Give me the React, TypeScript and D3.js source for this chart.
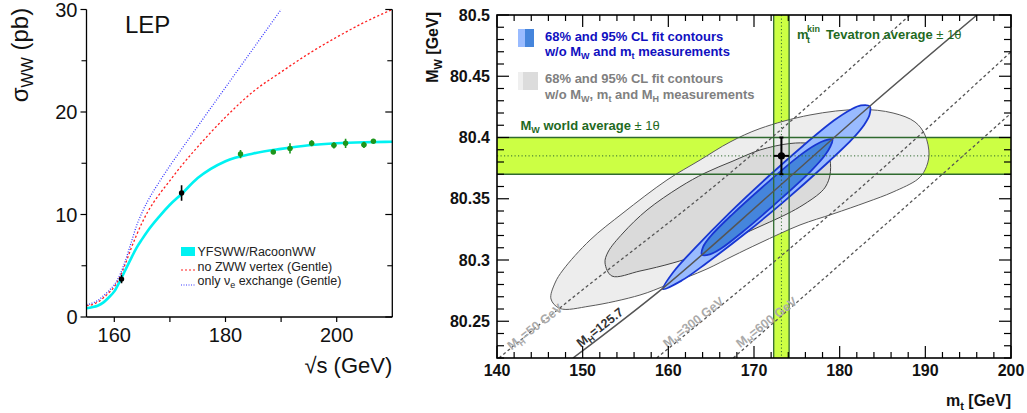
import React, { useEffect } from "react";
import * as d3 from "d3";

// ---------------- Left panel: LEP WW cross-section ----------------
const sqrtS = [155, 156, 157, 158, 159, 160, 161, 162, 163, 164, 165, 166, 168, 170, 172, 175, 180, 185, 190, 195, 200, 205, 210];
const sigmaYFSWW = [0.85, 0.95, 1.1, 1.4, 1.9, 2.5, 3.5, 4.6, 5.7, 6.75, 7.6, 8.4, 9.75, 10.95, 11.95, 13.55, 15.2, 15.95, 16.4, 16.75, 16.95, 17.05, 17.1];
const sigmaNoZWW = [1.1, 1.2, 1.45, 1.85, 2.35, 2.95, 3.9, 5.2, 6.65, 8.0, 9.2, 10.25, 11.9, 13.3, 14.7, 16.6, 19.5, 22.0, 23.9, 25.7, 27.3, 28.75, 30.0];
const sqrtSNu = [155, 156, 157, 158, 159, 160, 161, 162, 163, 164, 165, 166, 168, 170, 172, 175, 180, 185, 190];
const sigmaNuOnly = [1.2, 1.35, 1.6, 2.05, 2.55, 3.15, 4.1, 5.5, 7.2, 8.9, 10.2, 11.3, 13.1, 14.75, 16.3, 18.6, 22.4, 26.2, 30.0];

const measS = [161.3, 172.1, 182.7, 188.6, 191.6, 195.5, 199.5, 201.6, 204.9, 206.6];
const measSigma = [3.7, 12.1, 15.9, 16.1, 16.45, 16.95, 16.75, 16.95, 16.8, 17.15];
const measErr = [0.4, 0.75, 0.4, 0.2, 0.5, 0.3, 0.3, 0.45, 0.3, 0.15];
const measGroup = ["old", "old", "lep2", "lep2", "lep2", "lep2", "lep2", "lep2", "lep2", "lep2"];

const yTicksLeft = [0, 10, 20, 30];
const yMinorLeft = [5, 15, 25];
const xTicksLeft = [160, 170, 180, 190, 200];
const xLabelsLeft = [160, 180, 200];

// ---------------- Right panel: MW vs mt ----------------
const MT_TEV = 173.2;
const MT_TEV_ERR = 0.9;
const MW_WORLD = 80.385;
const MW_WORLD_ERR = 0.015;

// 95% CL contour without MW, mt, MH (light gray)
const grayOuterMt = [146.3, 146.77, 147.7, 150.86, 154.71, 159.84, 163.7, 167.2, 170.7, 176.54, 182.37, 186.23, 188.79, 189.96, 190.43, 189.96, 189.14, 186.23, 183.19, 179.22, 175.37, 170.7, 167.55, 164.51, 159.84, 156.69, 150.86, 147.35];
const grayOuterMw = [80.2682, 80.2812, 80.2918, 80.3163, 80.3384, 80.3653, 80.3816, 80.3963, 80.4073, 80.4184, 80.4229, 80.42, 80.4127, 80.402, 80.3857, 80.3735, 80.3661, 80.3555, 80.3473, 80.3376, 80.3286, 80.3139, 80.3033, 80.2927, 80.2796, 80.2714, 80.2624, 80.2604];
// 68% CL contour without MW, mt, MH (darker gray)
const grayInnerMt = [152.61, 152.96, 154.71, 157.51, 161.36, 164.28, 167.55, 170.7, 174.2, 176.54, 178.29, 178.87, 178.87, 178.4, 177.7, 175.72, 173.85, 169.53, 163.7, 160.54, 156.69, 153.42];
const grayInnerMw = [80.2976, 80.3065, 80.322, 80.3408, 80.3596, 80.371, 80.3808, 80.3898, 80.3951, 80.3951, 80.3914, 80.3816, 80.3694, 80.3604, 80.3547, 80.3449, 80.3376, 80.3237, 80.3049, 80.2976, 80.291, 80.2869];
// 95% CL contour without MW and mt (light blue)
const blueOuterMt = [159.38, 160.66, 163.02, 167.12, 171.38, 175.74, 179.36, 181.33, 182.48, 183.51, 183.48, 182.89, 181.37, 177.98, 173.62, 169.12, 164.48, 161.6];
const blueOuterMw = [80.2763, 80.2908, 80.3091, 80.3383, 80.3663, 80.3933, 80.414, 80.4229, 80.4262, 80.4255, 80.4183, 80.4107, 80.398, 80.3755, 80.3485, 80.3224, 80.2976, 80.2834];
// 68% CL contour without MW and mt (blue)
const blueInnerMt = [163.92, 164.06, 164.88, 167.35, 171.68, 175.25, 177.2, 178.3, 179.14, 178.92, 178.28, 176.72, 173.3, 168.89, 166.11, 164.84];
const blueInnerMw = [80.3044, 80.3107, 80.319, 80.3365, 80.3638, 80.3848, 80.3941, 80.3976, 80.3984, 80.3927, 80.3855, 80.3732, 80.3509, 80.3242, 80.3092, 80.3046];

// SM lines for fixed MH
const mh50Mt = [140.23, 146.57, 166.23, 188.21];
const mh50Mw = [80.22, 80.2565, 80.3653, 80.5];
const mh125Mt = [148.87, 159.38, 172.45, 183.54, 196.03];
const mh125Mw = [80.22, 80.2771, 80.3571, 80.4257, 80.5];
const mh300Mt = [158.64, 180.82, 200];
const mh300Mw = [80.22, 80.349, 80.4699];
const mh600Mt = [167.58, 188.59, 200];
const mh600Mw = [80.22, 80.349, 80.4198];

const mhLabelText = ["=50 GeV", "=125.7", "=300 GeV", "=600 GeV"];
const mhLabelMt = [144.44, 152.02, 162.94, 171.48];
const mhLabelMw = [80.2453, 80.2449, 80.249, 80.249];
const mhLabelColor = ["#aaaaaa", "#333333", "#aaaaaa", "#aaaaaa"];

const xTicksRight = [140, 150, 160, 170, 180, 190, 200];
const yTicksRight = [80.25, 80.3, 80.35, 80.4, 80.45, 80.5];
const yTickLabelsRight = ["80.25", "80.3", "80.35", "80.4", "80.45", "80.5"];

const FONT = "'Liberation Sans', Arial, Helvetica, sans-serif";
const GREEN_BAND = "#ccff44";
const GREEN_LINE = "#2f6a2f";
const GREEN_TEXT = "#1f6a1f";

export default function App() {
  useEffect(() => {
    document.body.style.margin = "0";
  }, []);

  // left scales
  const xL = d3.scaleLinear().domain([155, 210]).range([86.5, 392.3]);
  const yL = d3.scaleLinear().domain([0, 30]).range([317, 9.5]);
  const curveL = (xs: number[], ys: number[]) =>
    d3
      .line<number>()
      .x((_, i) => xL(xs[i]))
      .y((d) => yL(d))
      .curve(d3.curveMonotoneX)(ys) || "";

  // right scales
  const xR = d3.scaleLinear().domain([140, 200]).range([497, 1011]);
  const yR = d3.scaleLinear().domain([80.22, 80.5]).range([358, 15]);
  const contour = (mt: number[], mw: number[]) =>
    d3
      .line<number>()
      .x((d) => xR(d))
      .y((_, i) => yR(mw[i]))
      .curve(d3.curveCatmullRomClosed.alpha(0.5))(mt) || "";
  const mhPath = (mt: number[], mw: number[]) =>
    d3
      .line<number>()
      .x((d) => xR(d))
      .y((_, i) => yR(mw[i]))
      .curve(d3.curveMonotoneX)(mt) || "";

  const [lx0, lx1] = xL.range();
  const [ly0, ly1] = yL.range(); // ly0 bottom
  const [rx0, rx1] = xR.range();
  const [ry0, ry1] = yR.range(); // ry0 bottom

  const xMinorR = d3.range(140, 200.001, 2);
  const yMinorR = d3.range(0, 29).map((i) => +(80.22 + i * 0.01).toFixed(2));

  return (
    <svg width={1027} height={413} style={{ position: "absolute", left: 0, top: 0 }} fontFamily={FONT}>
      <defs>
        <clipPath id="clipL">
          <rect x={lx0} y={ly1} width={lx1 - lx0} height={ly0 - ly1} />
        </clipPath>
        <clipPath id="clipR">
          <rect x={rx0} y={ry1} width={rx1 - rx0} height={ry0 - ry1} />
        </clipPath>
      </defs>

      {/* ================= LEFT PANEL ================= */}
      <g clipPath="url(#clipL)">
        <path d={curveL(sqrtS, sigmaYFSWW)} fill="none" stroke="#00f2f2" strokeWidth={2.6} />
        <path d={curveL(sqrtS, sigmaNoZWW)} fill="none" stroke="#ff2020" strokeWidth={1.3} strokeDasharray="2.2,2.2" />
        <path d={curveL(sqrtSNu, sigmaNuOnly)} fill="none" stroke="#3a3aff" strokeWidth={1.3} strokeDasharray="1,1.6" />
        {measS.map((s, i) => {
          const c = measGroup[i] === "old" ? "#000000" : "#1c961c";
          return (
            <g key={"m" + i}>
              <line x1={xL(s)} x2={xL(s)} y1={yL(measSigma[i] - measErr[i])} y2={yL(measSigma[i] + measErr[i])} stroke={c} strokeWidth={1.6} />
              <line x1={xL(s) - 2.5} x2={xL(s) + 2.5} y1={yL(measSigma[i])} y2={yL(measSigma[i])} stroke={c} strokeWidth={1.2} />
              <circle cx={xL(s)} cy={yL(measSigma[i])} r={2.7} fill={c} />
            </g>
          );
        })}
      </g>
      {/* axes */}
      <line x1={lx0} x2={lx0} y1={ly1} y2={ly0} stroke="#000" strokeWidth={1.3} />
      <line x1={lx1} x2={lx1} y1={ly1} y2={ly0} stroke="#000" strokeWidth={1.3} />
      <line x1={lx0} x2={lx1} y1={ly0} y2={ly0} stroke="#000" strokeWidth={1.3} />
      {yTicksLeft.map((t) => (
        <g key={"ylt" + t}>
          <line x1={lx0 - 6} x2={lx0} y1={yL(t)} y2={yL(t)} stroke="#000" strokeWidth={1.2} />
          <line x1={lx1 - 7} x2={lx1} y1={yL(t)} y2={yL(t)} stroke="#000" strokeWidth={1.2} />
          <text x={lx0 - 9} y={yL(t) + 7} textAnchor="end" fontSize={20} fill="#111">
            {t}
          </text>
        </g>
      ))}
      {yMinorLeft.map((t) => (
        <g key={"ylm" + t}>
          <line x1={lx0 - 5} x2={lx0} y1={yL(t)} y2={yL(t)} stroke="#000" strokeWidth={1.1} />
          <line x1={lx1 - 5} x2={lx1} y1={yL(t)} y2={yL(t)} stroke="#000" strokeWidth={1.1} />
        </g>
      ))}
      {xTicksLeft.map((t) => (
        <line key={"xlt" + t} x1={xL(t)} x2={xL(t)} y1={ly0} y2={ly0 + 5} stroke="#000" strokeWidth={1.2} />
      ))}
      {xLabelsLeft.map((t) => (
        <text key={"xll" + t} x={xL(t)} y={341.5} textAnchor="middle" fontSize={20} fill="#111">
          {t}
        </text>
      ))}
      <text transform="translate(28,55) rotate(-90)" textAnchor="middle" fontSize={24} fill="#111">
        σ<tspan fontSize={16} dy={5}>WW</tspan>
        <tspan dy={-5}> (pb)</tspan>
      </text>
      <text x={lx1} y={373} textAnchor="end" fontSize={22} fill="#111">
        √s (GeV)
      </text>
      <text x={125} y={33} fontSize={24} fill="#111">
        LEP
      </text>
      {/* legend */}
      <rect x={181} y={247} width={14} height={9} fill="#00f2f2" />
      <text x={197.5} y={256} fontSize={12.5} fill="#222">
        YFSWW/RacoonWW
      </text>
      <line x1={181} x2={195} y1={270} y2={270} stroke="#ff2020" strokeWidth={1.2} strokeDasharray="2,2" />
      <text x={197.5} y={270.5} fontSize={12.5} fill="#222">
        no ZWW vertex (Gentle)
      </text>
      <line x1={181} x2={195} y1={285} y2={285} stroke="#3a3aff" strokeWidth={1.2} strokeDasharray="1,1.5" />
      <text x={197.5} y={285} fontSize={12.5} fill="#222">
        only ν<tspan fontSize={9} dy={3}>e</tspan>
        <tspan dy={-3}> exchange (Gentle)</tspan>
      </text>

      {/* ================= RIGHT PANEL ================= */}
      <g clipPath="url(#clipR)">
        {/* bands */}
        <rect x={rx0} y={yR(MW_WORLD + MW_WORLD_ERR)} width={rx1 - rx0} height={yR(MW_WORLD - MW_WORLD_ERR) - yR(MW_WORLD + MW_WORLD_ERR)} fill={GREEN_BAND} />
        <rect x={xR(MT_TEV - MT_TEV_ERR)} y={ry1} width={xR(MT_TEV + MT_TEV_ERR) - xR(MT_TEV - MT_TEV_ERR)} height={ry0 - ry1} fill={GREEN_BAND} />
        {/* contours */}
        <path d={contour(grayOuterMt, grayOuterMw)} fill="#ededed" stroke="#5a5a5a" strokeWidth={1} />
        <path d={contour(grayInnerMt, grayInnerMw)} fill="#dadada" stroke="#444" strokeWidth={1} />
        <path d={contour(blueOuterMt, blueOuterMw)} fill="#99bbff" stroke="#1836d2" strokeWidth={1.8} />
        <path d={contour(blueInnerMt, blueInnerMw)} fill="#4585dc" stroke="#1836d2" strokeWidth={1.8} />
        {/* band edges & centers */}
        {[MW_WORLD - MW_WORLD_ERR, MW_WORLD + MW_WORLD_ERR].map((v, i) => (
          <line key={"hb" + i} x1={rx0} x2={rx1} y1={yR(v)} y2={yR(v)} stroke={GREEN_LINE} strokeWidth={1.3} />
        ))}
        {[MT_TEV - MT_TEV_ERR, MT_TEV + MT_TEV_ERR].map((v, i) => (
          <line key={"vb" + i} x1={xR(v)} x2={xR(v)} y1={ry1} y2={ry0} stroke={GREEN_LINE} strokeWidth={1.3} />
        ))}
        <line x1={rx0} x2={rx1} y1={yR(MW_WORLD)} y2={yR(MW_WORLD)} stroke={GREEN_LINE} strokeWidth={1} strokeDasharray="1.2,2.3" />
        <line x1={xR(MT_TEV)} x2={xR(MT_TEV)} y1={ry1} y2={ry0} stroke={GREEN_LINE} strokeWidth={1} strokeDasharray="1.2,2.3" />
        {/* MH lines */}
        <path d={mhPath(mh50Mt, mh50Mw)} fill="none" stroke="#555" strokeWidth={1.3} strokeDasharray="3,2.6" />
        <path d={mhPath(mh300Mt, mh300Mw)} fill="none" stroke="#555" strokeWidth={1.3} strokeDasharray="3,2.6" />
        <path d={mhPath(mh600Mt, mh600Mw)} fill="none" stroke="#555" strokeWidth={1.3} strokeDasharray="3,2.6" />
        <path d={mhPath(mh125Mt, mh125Mw)} fill="none" stroke="#555" strokeWidth={1.5} />
        {/* MH labels */}
        {mhLabelText.map((t, i) => (
          <text
            key={"mhl" + i}
            transform={`translate(${xR(mhLabelMt[i])},${yR(mhLabelMw[i])}) rotate(-38)`}
            textAnchor="middle"
            dy={4}
            fontSize={12.5}
            fontWeight="bold"
            fill={mhLabelColor[i]}
          >
            M<tspan fontSize={8.5} dy={3}>H</tspan>
            <tspan dy={-3}>{t}</tspan>
          </text>
        ))}
        {/* measurement point */}
        <line x1={xR(MT_TEV)} x2={xR(MT_TEV)} y1={yR(MW_WORLD - MW_WORLD_ERR)} y2={yR(MW_WORLD + MW_WORLD_ERR)} stroke="#000" strokeWidth={2} />
        <line x1={xR(MT_TEV - MT_TEV_ERR)} x2={xR(MT_TEV + MT_TEV_ERR)} y1={yR(MW_WORLD)} y2={yR(MW_WORLD)} stroke="#000" strokeWidth={2} />
        {[MW_WORLD - MW_WORLD_ERR, MW_WORLD + MW_WORLD_ERR].map((v, i) => (
          <line key={"cap" + i} x1={xR(MT_TEV) - 2} x2={xR(MT_TEV) + 2} y1={yR(v)} y2={yR(v)} stroke="#000" strokeWidth={2} />
        ))}
        <circle cx={xR(MT_TEV)} cy={yR(MW_WORLD)} r={3.6} fill="#000" />
      </g>

      {/* frame & ticks */}
      <rect x={rx0} y={ry1} width={rx1 - rx0} height={ry0 - ry1} fill="none" stroke="#000" strokeWidth={1.6} />
      {xMinorR.map((t) => {
        const len = Math.abs(t % 10) < 1e-6 ? 12 : 6;
        return (
          <g key={"xr" + t}>
            <line x1={xR(t)} x2={xR(t)} y1={ry0} y2={ry0 - len} stroke="#000" strokeWidth={1.2} />
            <line x1={xR(t)} x2={xR(t)} y1={ry1} y2={ry1 + len} stroke="#000" strokeWidth={1.2} />
          </g>
        );
      })}
      {yMinorR.map((t, i) => {
        const len = (i + 2) % 5 === 0 ? 12 : 7;
        return (
          <g key={"yr" + i}>
            <line x1={rx0} x2={rx0 + len} y1={yR(t)} y2={yR(t)} stroke="#000" strokeWidth={1.2} />
            <line x1={rx1} x2={rx1 - len} y1={yR(t)} y2={yR(t)} stroke="#000" strokeWidth={1.2} />
          </g>
        );
      })}
      {xTicksRight.map((t) => (
        <text key={"xrl" + t} x={xR(t)} y={375.5} textAnchor="middle" fontSize={16} fontWeight="bold" fill="#111">
          {t}
        </text>
      ))}
      {yTicksRight.map((t, i) => (
        <text key={"yrl" + t} x={490} y={yR(t) + 5.5} textAnchor="end" fontSize={16} fontWeight="bold" fill="#111">
          {yTickLabelsRight[i]}
        </text>
      ))}
      <text x={rx1} y={406} textAnchor="end" fontSize={16} fontWeight="bold" fill="#111">
        m<tspan fontSize={11} dy={4}>t</tspan>
        <tspan dy={-4}> [GeV]</tspan>
      </text>
      <text transform="translate(438,12) rotate(-90)" textAnchor="end" fontSize={16} fontWeight="bold" fill="#111">
        M<tspan fontSize={11} dy={4}>W</tspan>
        <tspan dy={-4}> [GeV]</tspan>
      </text>

      {/* legend */}
      <rect x={518} y={29} width={7} height={18} fill="#99bbff" />
      <rect x={525} y={29} width={9} height={18} fill="#4585dc" />
      <text x={545} y={40.5} fontSize={13} fontWeight="bold" fill="#1010c0">
        68% and 95% CL fit contours
      </text>
      <text x={545} y={56} fontSize={13} fontWeight="bold" fill="#1010c0">
        w/o M<tspan fontSize={9} dy={3}>W</tspan>
        <tspan dy={-3}> and m</tspan>
        <tspan fontSize={9} dy={3}>t</tspan>
        <tspan dy={-3}> measurements</tspan>
      </text>
      <rect x={518} y={72} width={5} height={18} fill="#efefef" />
      <rect x={523} y={72} width={15} height={18} fill="#dcdcdc" />
      <text x={545} y={83.3} fontSize={13} fontWeight="bold" fill="#808080">
        68% and 95% CL fit contours
      </text>
      <text x={545} y={99.3} fontSize={13} fontWeight="bold" fill="#808080">
        w/o M<tspan fontSize={9} dy={3}>W</tspan>
        <tspan dy={-3}>, m</tspan>
        <tspan fontSize={9} dy={3}>t</tspan>
        <tspan dy={-3}> and M</tspan>
        <tspan fontSize={9} dy={3}>H</tspan>
        <tspan dy={-3}> measurements</tspan>
      </text>
      <text x={520.5} y={130} fontSize={13} fontWeight="bold" fill={GREEN_TEXT}>
        M<tspan fontSize={9} dy={3}>W</tspan>
        <tspan dy={-3}> world average </tspan>
        <tspan fontWeight="normal">± 1θ</tspan>
      </text>
      <text x={797} y={38.5} fontSize={13} fontWeight="bold" fill={GREEN_TEXT}>
        m<tspan x={807} dy={4} fontSize={9}>t</tspan>
        <tspan x={807} dy={-11} fontSize={9}>kin</tspan>
        <tspan x={826} dy={7}>Tevatron average </tspan>
        <tspan fontWeight="normal">± 1θ</tspan>
      </text>
    </svg>
  );
}
